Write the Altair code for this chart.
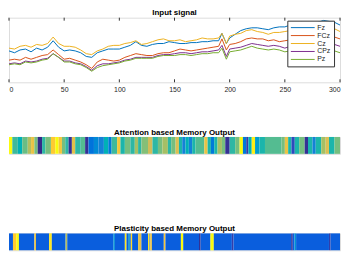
import altair as alt
import pandas as pd

# ---------------- data ----------------
t_vals = list(range(0, 195, 5)) + [193, 197] + list(range(200, 305, 5))

fz = [34, 32, 35, 36, 33, 37, 35, 38, 45, 38,
      34, 35, 34, 32, 28, 27, 32, 34, 36, 36,
      36, 38, 40, 44, 40, 39, 41, 42, 42, 44,
      43, 42, 42, 43, 43, 44, 44, 45, 45,
      53, 42,
      48, 52, 56, 58, 59, 59, 58, 57, 59, 60, 60, 62, 63, 65, 63, 64, 65, 67, 66, 65, 62]
fcz = [24, 25, 24, 27, 25, 27, 29, 30, 35, 30,
       25, 26, 24, 22, 19, 15, 22, 25, 24, 23,
       24, 27, 29, 31, 30, 29, 29, 31, 32, 32,
       34, 36, 35, 34, 35, 36, 37, 38, 39,
       47, 35,
       41, 42, 44, 47, 48, 47, 47, 45, 46, 44, 45, 46, 47, 48, 47, 48, 49, 50, 50, 49, 47]
cz = [37, 36, 39, 40, 38, 41, 40, 42, 49, 42,
      39, 39, 38, 35, 31, 30, 34, 36, 39, 40,
      40, 42, 43, 45, 41, 42, 44, 46, 47, 45,
      45, 46, 44, 45, 46, 48, 47, 47, 48,
      53, 42,
      50, 52, 53, 56, 57, 55, 54, 52, 54, 54, 55, 56, 57, 58, 57, 58, 59, 60, 60, 58, 55]
cpz = [20, 21, 20, 23, 22, 23, 25, 26, 31, 27,
       23, 23, 21, 20, 17, 13, 18, 20, 20, 21,
       22, 24, 25, 27, 27, 27, 27, 29, 30, 30,
       31, 32, 32, 31, 32, 33, 33, 34, 35,
       40, 28,
       36, 37, 38, 40, 42, 41, 40, 39, 40, 39, 37, 39, 40, 41, 40, 41, 42, 42, 42, 41, 39]
pz = [19, 20, 19, 22, 21, 22, 24, 25, 31, 27,
      22, 22, 20, 19, 16, 12, 16, 18, 19, 20,
      21, 23, 24, 26, 26, 26, 26, 28, 29, 29,
      29, 30, 30, 29, 30, 31, 31, 32, 32,
      37, 25,
      33, 34, 35, 37, 39, 37, 36, 35, 36, 35, 33, 34, 35, 36, 35, 36, 36, 36, 36, 34, 32]

channels = ["Fz", "FCz", "Cz", "CPz", "Pz"]
line_colors = ["#0072BD", "#D95319", "#EDB120", "#7E2F8E", "#77AC30"]
series = [fz, fcz, cz, cpz, pz]

x_ticks = [0, 50, 100, 150, 200, 250, 300]

attn_starts = [0, 3, 8, 12, 17, 20, 23, 26, 30, 33, 38, 42, 45, 48, 51, 54, 57, 60, 65, 69,
               72, 77, 81, 86, 90, 93, 98, 101, 105, 110, 114, 117, 120, 126, 130, 135, 139, 144, 147, 151,
               154, 157, 160, 163, 166, 169, 177, 180, 183, 186, 189, 193, 196, 200, 205, 209, 212, 215, 217, 220,
               223, 227, 232, 247, 250, 253, 256, 259, 263, 268, 271, 275, 278, 283, 287, 290, 295]
attn_vals = [1.0, 0.52, 0.45, 0.58, 0.7, 0.82, 0.6, 0.0, 0.5, 0.6, 0.88, 1.0, 0.85, 0.6, 0.5, 0.02, 0.8, 0.5, 0.55, 0.02,
             0.2, 0.28, 0.25, 0.45, 0.22, 0.52, 0.85, 0.48, 0.6, 0.5, 0.68, 0.5, 0.62, 0.75, 0.5, 0.6, 0.68, 0.5, 0.6, 0.78,
             0.48, 0.25, 0.45, 0.25, 0.48, 0.55, 0.82, 0.48, 0.22, 0.48, 0.68, 0.6, 0.02, 0.5, 0.6, 1.0, 0.22, 0.05, 0.45, 0.97,
             0.35, 0.48, 0.55, 0.6, 0.82, 0.48, 0.08, 0.48, 0.6, 0.02, 0.48, 0.25, 0.48, 0.68, 0.78, 0.48, 0.6]

plast_starts = [0, 3.6, 6.6, 9, 23, 24.5, 36.4, 38.8, 51.3, 52.8, 94.6, 96, 105, 106.5, 108, 109.5,
                110.4, 111.6, 117, 120, 126, 127.4, 128, 129.5, 140.3, 141.8, 155.8, 157.9, 172.2, 173.7,
                182.6, 185.6, 202, 203.5, 255.7, 257.2, 258.7, 260.2, 290, 291.5]
plast_vals = [0.13, 0.88, 1.0, 0.13, 0.82, 0.13, 0.95, 0.13, 0.7, 0.13, 0.3, 0.13, 0.95, 0.13, 0.3, 0.13,
              0.92, 0.13, 0.8, 0.13, 0.95, 0.13, 0.85, 0.13, 0.85, 0.13, 1.0, 0.13, 0.02, 0.13,
              1.0, 0.13, 0.05, 0.13, 0.03, 0.13, 0.3, 0.13, 0.05, 0.13]

parula_stops = [0, 0.125, 0.25, 0.375, 0.5, 0.625, 0.75, 0.875, 1.0]
parula_colors = ["#352a87", "#0f5cdd", "#1481d6", "#06a4ca", "#2eb7a4",
                 "#87bf77", "#d1bb59", "#fec832", "#f9fb0e"]

# ---------------- tables ----------------
rows = []
for name, vals in zip(channels, series):
    for t, v in zip(t_vals, vals):
        rows.append({"t": t, "v": v, "ch": name})
df = pd.DataFrame(rows)
tick_df = pd.DataFrame({"t": x_ticks})


def runs(starts, vals):
    ends = list(starts[1:]) + [300]
    return pd.DataFrame({"start": starts, "end": ends, "v": vals})


attn_df = runs(attn_starts, attn_vals)
plast_df = runs(plast_starts, plast_vals)

FONT = "Liberation Sans"
W = 333
H = 65
xscale = alt.Scale(domain=[0, 300], nice=False, zero=False)
title_style = dict(fontSize=8, fontWeight="bold", font=FONT, color="black", offset=0, anchor="middle")

lines = alt.Chart(df).mark_line(strokeWidth=1, clip=True).encode(
    x=alt.X("t:Q", scale=xscale,
            axis=alt.Axis(values=x_ticks, ticks=False, domain=False, grid=False, title=None,
                          labelFontSize=7, labelFont=FONT, labelColor="#262626", labelPadding=3)),
    y=alt.Y("v:Q", scale=alt.Scale(domain=[0, 70], nice=False, zero=False), axis=None),
    color=alt.Color("ch:N", scale=alt.Scale(domain=channels, range=line_colors),
                    sort=channels,
                    legend=alt.Legend(orient="none", legendX=280, legendY=3, title=None,
                                      fillColor="white", strokeColor="#333", padding=3,
                                      labelFontSize=7, labelFont=FONT, labelColor="#262626",
                                      symbolType="stroke", symbolSize=576, symbolStrokeWidth=1,
                                      clipHeight=8, rowPadding=0, labelOffset=2)),
)

bottom_ticks = alt.Chart(tick_df).mark_rule(color="#333", strokeWidth=1).encode(
    x=alt.X("t:Q", scale=xscale), y=alt.value(H), y2=alt.value(H - 3))
top_ticks = alt.Chart(tick_df).mark_rule(color="#333", strokeWidth=1).encode(
    x=alt.X("t:Q", scale=xscale), y=alt.value(0), y2=alt.value(3))

top = alt.layer(lines, bottom_ticks, top_ticks).properties(
    width=W, height=H, title=alt.TitleParams("Input signal", **title_style))

color_q = alt.Scale(domain=parula_stops, range=parula_colors)


def strip(data, title):
    return alt.Chart(data).mark_rect().encode(
        x=alt.X("start:Q", scale=xscale, axis=None),
        x2="end:Q",
        color=alt.Color("v:Q", scale=color_q, legend=None),
    ).properties(width=W, height=17, title=alt.TitleParams(title, **title_style))


attn = strip(attn_df, "Attention based Memory Output")
plast = strip(plast_df, "Plasticity based Memory Output")

lower = alt.vconcat(attn, plast, spacing=70).resolve_scale(color="independent")
chart = alt.vconcat(top, lower, spacing=35).resolve_scale(color="independent").properties(
    padding=0
).configure_view(stroke="#333", strokeWidth=1).configure(font=FONT)

chart.save("out.html", embed_options={"renderer": "svg", "actions": False})
